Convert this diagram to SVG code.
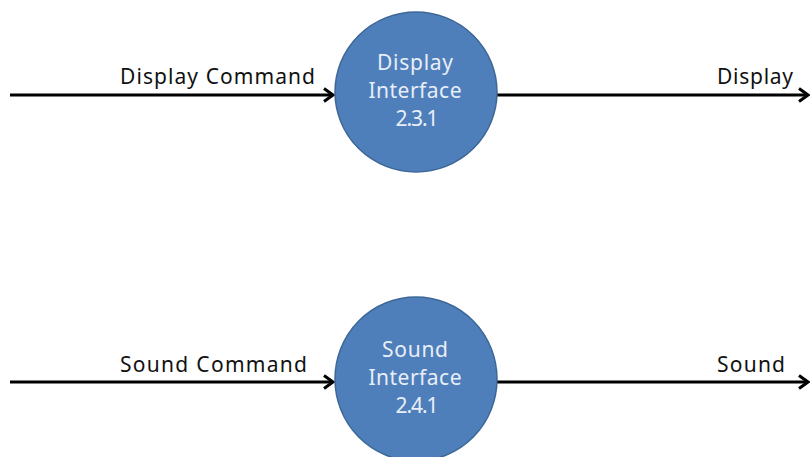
<svg xmlns="http://www.w3.org/2000/svg" width="810" height="457" viewBox="0 0 810 457">
<style>
.lbl{font-family:"Noto Sans","Liberation Sans",sans-serif;font-size:21px;fill:#111}
.in{font-family:"Noto Sans","Liberation Sans",sans-serif;font-size:21px;fill:#e8eef7;text-anchor:middle}
.bub{fill:#4f7fbb;stroke:#3c6797;stroke-width:1.5}
.flow{stroke:#000;stroke-width:3;fill:none}
</style>
<defs>
<marker id="ah" markerWidth="14" markerHeight="16" refX="11" refY="8" orient="auto" markerUnits="userSpaceOnUse">
<path d="M2,1.5 L11,8 L2,14.5" fill="none" stroke="#000" stroke-width="3"/>
</marker>
</defs>
<rect width="810" height="457" fill="#fff"/>
<g id="connectors">
<line class="flow" x1="10" y1="95" x2="333" y2="95" marker-end="url(#ah)"/>
<line class="flow" x1="497" y1="95" x2="808" y2="95" marker-end="url(#ah)"/>
<line class="flow" x1="10" y1="382" x2="333" y2="382" marker-end="url(#ah)"/>
<line class="flow" x1="497" y1="382" x2="808" y2="382" marker-end="url(#ah)"/>
<text class="lbl" x="120" y="84" textLength="195" lengthAdjust="spacing">Display Command</text>
<text class="lbl" x="717" y="84" textLength="76" lengthAdjust="spacing">Display</text>
<text class="lbl" x="120" y="372" textLength="187" lengthAdjust="spacing">Sound Command</text>
<text class="lbl" x="717" y="372" textLength="68" lengthAdjust="spacing">Sound</text>
</g>
<g id="display-interface">
<ellipse class="bub" cx="416" cy="92" rx="81" ry="80"/>
<text class="in" x="415" y="70" textLength="76" lengthAdjust="spacing">Display</text>
<text class="in" x="415" y="98" textLength="93" lengthAdjust="spacing">Interface</text>
<text class="in" x="417" y="126" textLength="43" lengthAdjust="spacing">2.3.1</text>
</g>
<g id="sound-interface">
<ellipse class="bub" cx="416" cy="379" rx="81" ry="82"/>
<text class="in" x="415" y="357" textLength="66" lengthAdjust="spacing">Sound</text>
<text class="in" x="415" y="385" textLength="93" lengthAdjust="spacing">Interface</text>
<text class="in" x="417" y="413" textLength="43" lengthAdjust="spacing">2.4.1</text>
</g>
</svg>
